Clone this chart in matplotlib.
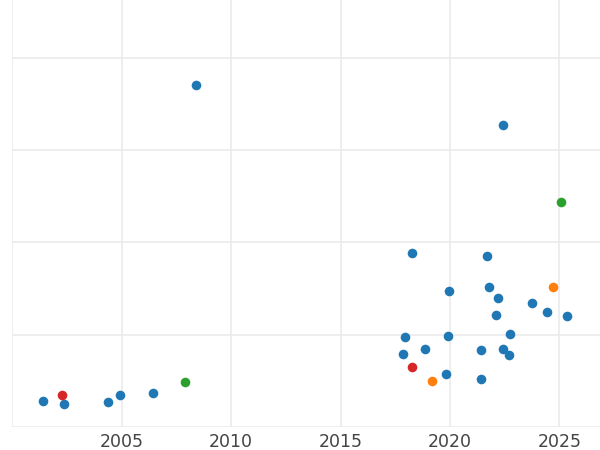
import matplotlib
matplotlib.use("Agg")
import matplotlib.pyplot as plt

# Data (year, value) by group
blue_x = [2001.42, 2002.38, 2004.39, 2004.92, 2006.43, 2008.41, 2022.41, 2018.28, 2021.71,
          2019.96, 2021.79, 2022.18, 2023.75, 2024.44, 2025.34, 2022.11, 2017.93, 2019.93,
          2022.76, 2018.86, 2017.87, 2021.43, 2022.41, 2022.70, 2019.81, 2021.43]
blue_y = [0.279, 0.246, 0.271, 0.341, 0.366, 3.707, 3.272, 1.886, 1.857,
          1.470, 1.517, 1.401, 1.343, 1.245, 1.199, 1.210, 0.974, 0.985,
          1.007, 0.844, 0.786, 0.833, 0.840, 0.778, 0.569, 0.518]
red_x = [2002.29, 2018.27]
red_y = [0.344, 0.648]
orange_x = [2024.70, 2019.18]
orange_y = [1.514, 0.496]
green_x = [2007.91, 2025.08]
green_y = [0.485, 2.440]

xticks = [2000, 2005, 2010, 2015, 2020, 2025]
xticklabels = ["", "2005", "2010", "2015", "2020", "2025"]
yticks = [0, 1, 2, 3, 4]

fig = plt.figure(figsize=(6, 4.5), dpi=100)
ax = fig.add_axes([12.3 / 600, (450 - 426.7) / 450, (600 - 12.3) / 600, 426.7 / 450])

for xs, ys, c in [(blue_x, blue_y, "#1f77b4"), (red_x, red_y, "#d62728"),
                  (orange_x, orange_y, "#ff7f0e"), (green_x, green_y, "#2ca02c")]:
    ax.scatter(xs, ys, s=48, color=c, linewidths=0, zorder=3)

ax.set_xlim(2000, 2000 + 587.7 / 21.88)
ax.set_ylim(0, 426.7 / 92.1)
ax.set_xticks(xticks)
ax.set_xticklabels(xticklabels)
ax.set_yticks(yticks)
ax.set_yticklabels([])
ax.grid(True, color="#ebebeb", linewidth=1.2, zorder=0)
ax.set_axisbelow(True)
for s in ax.spines.values():
    s.set_visible(False)
ax.tick_params(axis="both", length=0, pad=4.3, labelsize=12.5, labelcolor="#444444")

fig.savefig("out.png", dpi=100)
